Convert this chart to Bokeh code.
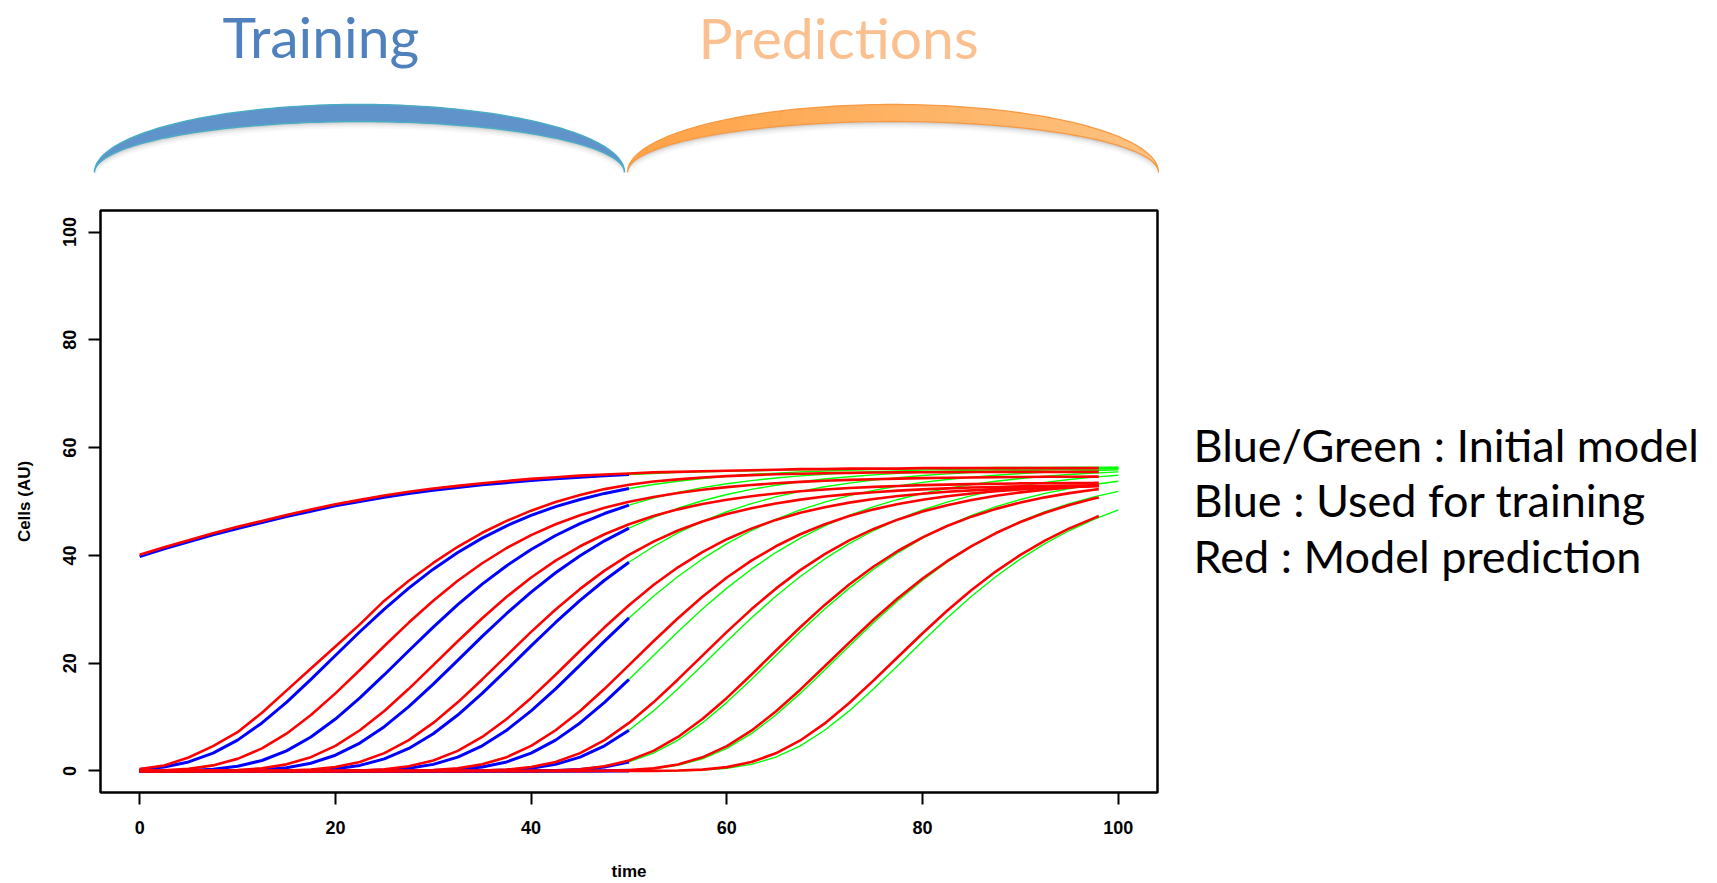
import math
from bokeh.plotting import figure
from bokeh.models import Range1d, FixedTicker
from bokeh.layouts import column, row
from bokeh.embed import file_html
from bokeh.resources import INLINE
from bokeh.core.properties import value

# ---------------- data ----------------
T_TRAIN = [0, 2.5, 5, 7.5, 10, 12.5, 15, 17.5, 20, 22.5, 25, 27.5, 30, 32.5, 35, 37.5, 40, 42.5, 45, 47.5, 50]
T_PRED = [50, 52.5, 55, 57.5, 60, 62.5, 65, 67.5, 70, 72.5, 75, 77.5, 80, 82.5, 85, 87.5, 90, 92.5, 95, 97.5, 100]
T_MODEL = [0, 2.5, 5, 7.5, 10, 12.5, 15, 17.5, 20, 22.5, 25, 27.5, 30, 32.5, 35, 37.5, 40, 42.5, 45, 47.5, 50,
           52.5, 55, 57.5, 60, 62.5, 65, 67.5, 70, 72.5, 75, 77.5, 80, 82.5, 85, 87.5, 90, 92.5, 95, 97.5, 98]

# blue: initial model, used for training (t = 0..50)
BLUE_TOP = [39.8, 41.2, 42.5, 43.8, 45.0, 46.1, 47.2, 48.2, 49.2, 50.0, 50.8, 51.5, 52.1, 52.6, 53.1, 53.5, 53.9, 54.2, 54.5, 54.8, 55.0]
BLUE_1 = [0.25, 0.72, 1.67, 3.31, 5.72, 8.91, 12.73, 16.98, 21.42, 25.83, 30.04, 33.93, 37.44, 40.53, 43.20, 45.49, 47.42, 49.04, 50.38, 51.50, 52.41]
BLUE_2 = [0.0, 0.02, 0.09, 0.32, 0.86, 1.94, 3.72, 6.30, 9.63, 13.55, 17.86, 22.31, 26.69, 30.85, 34.67, 38.09, 41.09, 43.69, 45.90, 47.77, 49.33]
BLUE_3 = [0.0, 0.0, 0.0, 0.01, 0.05, 0.20, 0.59, 1.43, 2.92, 5.17, 8.21, 11.92, 16.11, 20.52, 24.96, 29.22, 33.19, 36.77, 39.94, 42.70, 45.06]
BLUE_4 = [0.0, 0.0, 0.0, 0.0, 0.0, 0.0, 0.03, 0.12, 0.39, 1.03, 2.24, 4.18, 6.91, 10.37, 14.39, 18.74, 23.20, 27.55, 31.64, 35.39, 38.72]
BLUE_5 = [0.0, 0.0, 0.0, 0.0, 0.0, 0.0, 0.0, 0.0, 0.01, 0.04, 0.16, 0.49, 1.22, 2.56, 4.66, 7.55, 11.14, 15.24, 19.63, 24.08, 28.39]
BLUE_6 = [0.0, 0.0, 0.0, 0.0, 0.0, 0.0, 0.0, 0.0, 0.0, 0.0, 0.0, 0.01, 0.07, 0.25, 0.72, 1.67, 3.31, 5.72, 8.91, 12.73, 16.98]
BLUE_7 = [0.0, 0.0, 0.0, 0.0, 0.0, 0.0, 0.0, 0.0, 0.0, 0.0, 0.0, 0.0, 0.0, 0.01, 0.04, 0.16, 0.49, 1.22, 2.56, 4.66, 7.55]
BLUE_8 = [0.0, 0.0, 0.0, 0.0, 0.0, 0.0, 0.0, 0.0, 0.0, 0.0, 0.0, 0.0, 0.0, 0.0, 0.0, 0.0, 0.01, 0.07, 0.25, 0.72, 1.67]
BLUE_9 = [0.0, 0.0, 0.0, 0.0, 0.0, 0.0, 0.0, 0.0, 0.0, 0.0, 0.0, 0.0, 0.0, 0.0, 0.0, 0.0, 0.0, 0.0, 0.0, 0.03, 0.12]
BLUE_10 = [0.0, 0.0, 0.0, 0.0, 0.0, 0.0, 0.0, 0.0, 0.0, 0.0, 0.0, 0.0, 0.0, 0.0, 0.0, 0.0, 0.0, 0.0, 0.0, 0.0, 0.0]

# green: initial model continued (t = 50..100)
GREEN_TOP = [55.0, 55.2, 55.4, 55.5, 55.6, 55.7, 55.8, 55.9, 56.0, 56.0, 56.1, 56.1, 56.2, 56.2, 56.2, 56.3, 56.3, 56.3, 56.3, 56.3, 56.3]
GREEN_1 = [52.41, 53.16, 53.77, 54.27, 54.68, 55.01, 55.27, 55.49, 55.66, 55.81, 55.92, 56.01, 56.09, 56.15, 56.20, 56.24, 56.27, 56.29, 56.31, 56.33, 56.34]
GREEN_2 = [49.33, 50.62, 51.69, 52.57, 53.29, 53.88, 54.36, 54.75, 55.06, 55.32, 55.53, 55.69, 55.83, 55.94, 56.03, 56.10, 56.16, 56.21, 56.25, 56.28, 56.30]
GREEN_3 = [45.06, 47.06, 48.74, 50.14, 51.29, 52.24, 53.02, 53.66, 54.18, 54.60, 54.94, 55.22, 55.45, 55.63, 55.78, 55.90, 56.00, 56.07, 56.14, 56.19, 56.23]
GREEN_4 = [38.72, 41.65, 44.16, 46.30, 48.10, 49.61, 50.85, 51.88, 52.73, 53.42, 53.98, 54.44, 54.82, 55.12, 55.36, 55.56, 55.72, 55.85, 55.96, 56.04, 56.11]
GREEN_5 = [28.39, 32.42, 36.09, 39.34, 42.18, 44.62, 46.69, 48.43, 49.88, 51.08, 52.07, 52.88, 53.54, 54.08, 54.52, 54.88, 55.17, 55.41, 55.60, 55.75, 55.88]
GREEN_6 = [16.98, 21.42, 25.83, 30.04, 33.93, 37.44, 40.53, 43.20, 45.49, 47.42, 49.04, 50.38, 51.50, 52.41, 53.16, 53.77, 54.27, 54.68, 55.01, 55.27, 55.49]
GREEN_7 = [7.55, 11.14, 15.24, 19.63, 24.08, 28.39, 32.42, 36.09, 39.34, 42.18, 44.62, 46.69, 48.43, 49.88, 51.08, 52.07, 52.88, 53.54, 54.08, 54.52, 54.88]
GREEN_8 = [1.67, 3.31, 5.72, 8.91, 12.73, 16.98, 21.42, 25.83, 30.04, 33.93, 37.44, 40.53, 43.20, 45.49, 47.42, 49.04, 50.38, 51.50, 52.41, 53.16, 53.77]
GREEN_9 = [0.12, 0.39, 1.03, 2.24, 4.18, 6.91, 10.37, 14.39, 18.74, 23.20, 27.55, 31.64, 35.39, 38.72, 41.65, 44.16, 46.30, 48.10, 49.61, 50.85, 51.88]
GREEN_10 = [0.0, 0.01, 0.04, 0.16, 0.49, 1.22, 2.56, 4.66, 7.55, 11.14, 15.24, 19.63, 24.08, 28.39, 32.42, 36.09, 39.34, 42.18, 44.62, 46.69, 48.43]

# red: model prediction (t = 0..98)
RED_TOP = [40.1, 41.5, 42.8, 44.1, 45.3, 46.4, 47.5, 48.5, 49.5, 50.3, 51.1, 51.8, 52.4, 52.9, 53.4, 53.8, 54.2, 54.5, 54.8, 55.0, 55.2,
           55.4, 55.5, 55.6, 55.7, 55.8, 55.9, 56.0, 56.0, 56.1, 56.1, 56.1, 56.2, 56.2, 56.2, 56.2, 56.2, 56.2, 56.2, 56.2, 56.2]
RED_1 = [0.35, 1.0, 2.5, 4.6, 7.2, 10.8, 14.9, 19.0, 23.1, 27.2, 31.6, 35.3, 38.6, 41.6, 44.2, 46.4, 48.3, 49.9, 51.2, 52.3, 53.1,
         53.7, 54.1, 54.45, 54.7, 54.9, 55.05, 55.15, 55.25, 55.32, 55.37, 55.41, 55.44, 55.46, 55.48, 55.49, 55.5, 55.5, 55.5, 55.5, 55.5]
RED_2 = [0.03, 0.12, 0.39, 1.03, 2.24, 4.18, 6.91, 10.37, 14.39, 18.74, 23.19, 27.53, 31.59, 35.29, 38.54, 41.37, 43.77, 45.78, 47.45, 48.82, 49.94,
         50.85, 51.59, 52.19, 52.67, 53.06, 53.39, 53.64, 53.84, 54.01, 54.14, 54.25, 54.34, 54.40, 54.46, 54.51, 54.54, 54.58, 54.60, 54.62, 54.62]
RED_3 = [0.0, 0.0, 0.01, 0.04, 0.16, 0.49, 1.22, 2.56, 4.66, 7.55, 11.14, 15.24, 19.63, 24.06, 28.34, 32.32, 35.90, 39.02, 41.69, 43.93, 45.79,
         47.31, 48.54, 49.53, 50.34, 50.98, 51.49, 51.90, 52.24, 52.51, 52.72, 52.89, 53.03, 53.14, 53.23, 53.30, 53.36, 53.40, 53.44, 53.47, 53.48]
RED_4 = [0.0, 0.0, 0.0, 0.0, 0.0, 0.01, 0.07, 0.25, 0.72, 1.67, 3.31, 5.72, 8.91, 12.73, 16.98, 21.41, 25.80, 29.97, 33.78, 37.17, 40.09,
         42.55, 44.61, 46.29, 47.66, 48.75, 49.64, 50.35, 50.92, 51.37, 51.73, 52.02, 52.25, 52.43, 52.59, 52.70, 52.81, 52.88, 52.94, 53.00, 53.01]
RED_5 = [0.0, 0.0, 0.0, 0.0, 0.0, 0.0, 0.0, 0.0, 0.02, 0.09, 0.32, 0.86, 1.94, 3.72, 6.30, 9.63, 13.55, 17.86, 22.30, 26.65, 30.76,
         34.50, 37.79, 40.61, 43.00, 44.97, 46.59, 47.90, 48.95, 49.79, 50.47, 51.01, 51.45, 51.80, 52.07, 52.29, 52.47, 52.61, 52.72, 52.82, 52.84]
RED_6 = [0.0, 0.0, 0.0, 0.0, 0.0, 0.0, 0.0, 0.0, 0.0, 0.0, 0.01, 0.04, 0.16, 0.49, 1.22, 2.56, 4.66, 7.55, 11.14, 15.24, 19.63,
         24.06, 28.34, 32.32, 35.90, 39.02, 41.69, 43.93, 45.79, 47.31, 48.54, 49.53, 50.34, 50.98, 51.49, 51.90, 52.24, 52.51, 52.72, 52.89, 52.92]
RED_7 = [0.0, 0.0, 0.0, 0.0, 0.0, 0.0, 0.0, 0.0, 0.0, 0.0, 0.0, 0.0, 0.0, 0.01, 0.07, 0.25, 0.72, 1.67, 3.31, 5.72, 8.91,
         12.73, 16.98, 21.41, 25.81, 29.99, 33.83, 37.26, 40.24, 42.78, 44.91, 46.68, 48.14, 49.32, 50.29, 51.06, 51.69, 52.20, 52.61, 52.95, 53.00]
RED_8 = [0.0, 0.0, 0.0, 0.0, 0.0, 0.0, 0.0, 0.0, 0.0, 0.0, 0.0, 0.0, 0.0, 0.0, 0.0, 0.0, 0.02, 0.09, 0.32, 0.86, 1.94,
         3.72, 6.30, 9.63, 13.55, 17.86, 22.30, 26.67, 30.81, 34.59, 37.94, 40.86, 43.35, 45.45, 47.19, 48.63, 49.80, 50.77, 51.55, 52.18, 52.30]
RED_9 = [0.0, 0.0, 0.0, 0.0, 0.0, 0.0, 0.0, 0.0, 0.0, 0.0, 0.0, 0.0, 0.0, 0.0, 0.0, 0.0, 0.0, 0.0, 0.01, 0.04, 0.16,
         0.48, 1.21, 2.53, 4.61, 7.47, 11.02, 15.08, 19.42, 23.82, 28.09, 32.08, 35.71, 38.92, 41.73, 44.15, 46.20, 47.92, 49.35, 50.54, 50.75]
RED_10 = [0.0, 0.0, 0.0, 0.0, 0.0, 0.0, 0.0, 0.0, 0.0, 0.0, 0.0, 0.0, 0.0, 0.0, 0.0, 0.0, 0.0, 0.0, 0.0, 0.0, 0.0,
          0.01, 0.07, 0.25, 0.71, 1.65, 3.27, 5.66, 8.82, 12.60, 16.80, 21.19, 25.56, 29.72, 33.57, 37.04, 40.10, 42.74, 45.01, 46.92, 47.30]

X_TICKS = [0, 20, 40, 60, 80, 100]
Y_TICKS = [0, 20, 40, 60, 80, 100]
X_LABEL = "time"
Y_LABEL = "Cells (AU)"
HEADER_LEFT = "Training"
HEADER_RIGHT = "Predictions"
NOTE_LINES = ["Blue/Green : Initial model", "Blue : Used for training", "Red : Model prediction"]

BLUES = [BLUE_TOP, BLUE_1, BLUE_2, BLUE_3, BLUE_4, BLUE_5, BLUE_6, BLUE_7, BLUE_8, BLUE_9, BLUE_10]
GREENS = [GREEN_TOP, GREEN_1, GREEN_2, GREEN_3, GREEN_4, GREEN_5, GREEN_6, GREEN_7, GREEN_8, GREEN_9, GREEN_10]
REDS = [RED_TOP, RED_1, RED_2, RED_3, RED_4, RED_5, RED_6, RED_7, RED_8, RED_9, RED_10]

# ---------------- layout geometry ----------------
W, H = 1717, 883
TOP_H = 205
MAIN_W = 1160
MAIN_H = H - TOP_H
BORDER_TOP = 5
BORDER_BOTTOM = 90
FRAME_TOP = TOP_H + BORDER_TOP          # 210
FRAME_BOTTOM = H - BORDER_BOTTOM        # 793
AXIS_FONT = "Liberation Sans"
BASELINE_FIX = 0.39                     # em offset of the rendered baseline


def clean(fig):
    fig.grid.visible = False
    fig.outline_line_color = None
    fig.background_fill_color = "white"
    fig.border_fill_color = "white"


# ---------------- header (arcs + titles) ----------------
top = figure(width=W, height=TOP_H, x_range=Range1d(0, W), y_range=Range1d(TOP_H, 0),
             x_axis_location=None, y_axis_location=None, output_backend="svg",
             toolbar_location=None, min_border=0)
clean(top)


def crescent(x0, x1, yb, b_out, b_in, n=120, dy=0.0):
    cx = (x0 + x1) / 2.0
    a = (x1 - x0) / 2.0
    ox, oy, ix, iy = [], [], [], []
    for i in range(n + 1):
        th = math.pi - math.pi * i / n
        ox.append(cx + a * math.cos(th))
        oy.append(yb - b_out * math.sin(th) + dy)
    for i in range(n + 1):
        th = math.pi * i / n
        ix.append(cx + a * math.cos(th))
        iy.append(yb - b_in * math.sin(th) + dy)
    return ox + ix, oy + iy


def band_piece(x0, x1, yb, b_out, b_in, xa, xb, m=6):
    cx = (x0 + x1) / 2.0
    a = (x1 - x0) / 2.0
    xs_o, ys_o, xs_i, ys_i = [], [], [], []
    for j in range(m + 1):
        x = xa + (xb - xa) * j / m
        u = max(0.0, 1 - ((x - cx) / a) ** 2)
        s = math.sqrt(u)
        xs_o.append(x)
        ys_o.append(yb - b_out * s)
        xs_i.append(x)
        ys_i.append(yb - b_in * s)
    return xs_o + xs_i[::-1], ys_o + ys_i[::-1]


BLUE_ARC = (94.0, 624.0)
ORANGE_ARC = (627.0, 1158.0)
ARC_BASE = 172.0
ARC_OUT = 68.0
ARC_IN = 51.0

# shadows
for (ax0, ax1) in (BLUE_ARC, ORANGE_ARC):
    for dy, al in ((7.0, 0.05), (5.0, 0.08), (3.0, 0.13), (1.5, 0.16)):
        sx, sy = crescent(ax0, ax1, ARC_BASE, ARC_OUT, ARC_IN, dy=dy)
        top.patch(sx, sy, fill_color="#7f7f7f", fill_alpha=al, line_color=None)

# blue arc
bx, by = crescent(BLUE_ARC[0], BLUE_ARC[1], ARC_BASE, ARC_OUT, ARC_IN)
top.patch(bx, by, fill_color="#5F93C9", line_color="#4BACC6", line_width=1.5)

# orange arc with left-to-right gradient
N_STRIPS = 48
c0 = (255, 162, 70)
c1 = (253, 194, 128)
ox0, ox1 = ORANGE_ARC
for k in range(N_STRIPS):
    xa = ox0 + (ox1 - ox0) * k / N_STRIPS
    xb = ox0 + (ox1 - ox0) * (k + 1) / N_STRIPS
    f = (k + 0.5) / N_STRIPS
    col = "#%02x%02x%02x" % tuple(int(round(c0[i] + (c1[i] - c0[i]) * f)) for i in range(3))
    px, py = band_piece(ox0, ox1, ARC_BASE, ARC_OUT, ARC_IN, max(ox0, xa - 0.6), min(ox1, xb + 0.6))
    top.patch(px, py, fill_color=col, line_color=None)
oxs, oys = crescent(ox0, ox1, ARC_BASE, ARC_OUT, ARC_IN)
top.patch(oxs, oys, fill_color=None, line_color="#F79A46", line_width=1.3)

TITLE_SIZE = 57
top.text(x=[222], y=[58 - BASELINE_FIX * TITLE_SIZE], text=[HEADER_LEFT], text_font=value("Lato"),
         text_font_size="%dpx" % TITLE_SIZE, text_color="#4F81BD", text_baseline="alphabetic", text_align="left")
top.text(x=[698], y=[59 - BASELINE_FIX * TITLE_SIZE], text=[HEADER_RIGHT], text_font=value("Lato"),
         text_font_size="%dpx" % TITLE_SIZE, text_color="#FAC090", text_baseline="alphabetic", text_align="left")

# ---------------- main chart ----------------
p = figure(width=MAIN_W, height=MAIN_H, x_range=Range1d(-4, 104), y_range=Range1d(-4, 104),
           output_backend="svg", toolbar_location=None,
           min_border_left=100, min_border_right=3, min_border_top=BORDER_TOP, min_border_bottom=BORDER_BOTTOM)
p.grid.visible = False
p.background_fill_color = "white"
p.border_fill_color = "white"
p.outline_line_color = "black"
p.outline_line_width = 2.5

p.multi_line(xs=[T_TRAIN] * len(BLUES), ys=BLUES, line_color="#0000FF", line_width=3)
p.multi_line(xs=[T_PRED] * len(GREENS), ys=GREENS, line_color="#00FF00", line_width=1.4)
p.multi_line(xs=[T_MODEL] * len(REDS), ys=REDS, line_color="#FF0000", line_width=2.6)

for ax, ticks in ((p.xaxis, X_TICKS), (p.yaxis, Y_TICKS)):
    ax.ticker = FixedTicker(ticks=ticks)
    ax.axis_line_color = None
    ax.major_tick_in = 0
    ax.major_tick_out = 12
    ax.major_tick_line_width = 2
    ax.major_tick_line_color = "black"
    ax.minor_tick_line_color = None
    ax.major_label_text_font = AXIS_FONT
    ax.major_label_text_font_style = "bold"
    ax.major_label_text_font_size = "18px"
    ax.major_label_text_color = "black"
    ax.axis_label_text_font = AXIS_FONT
    ax.axis_label_text_font_style = "bold"
    ax.axis_label_text_font_size = "17px"
    ax.axis_label_text_color = "black"

p.xaxis.axis_label = X_LABEL
p.yaxis.axis_label = Y_LABEL
p.yaxis.major_label_orientation = "vertical"
p.xaxis.major_label_standoff = 16
p.yaxis.major_label_standoff = 12
p.xaxis.axis_label_standoff = 25
p.yaxis.axis_label_standoff = 27

# ---------------- right-hand note ----------------
NOTE_SIZE = 45
rf = figure(width=W - MAIN_W, height=MAIN_H, x_range=Range1d(MAIN_W, W), y_range=Range1d(FRAME_BOTTOM, FRAME_TOP),
            x_axis_location=None, y_axis_location=None, output_backend="svg",
            toolbar_location=None, min_border_left=0, min_border_right=0,
            min_border_top=BORDER_TOP, min_border_bottom=BORDER_BOTTOM)
clean(rf)
rf.text(x=[1193] * 3, y=[b - BASELINE_FIX * NOTE_SIZE for b in (462, 518, 574)], text=NOTE_LINES,
        text_font=value("Lato"), text_font_size="%dpx" % NOTE_SIZE, text_color="black",
        text_baseline="alphabetic", text_align="left")

layout = column(top, row(p, rf))
open("out.html", "w").write(file_html(layout, INLINE))
